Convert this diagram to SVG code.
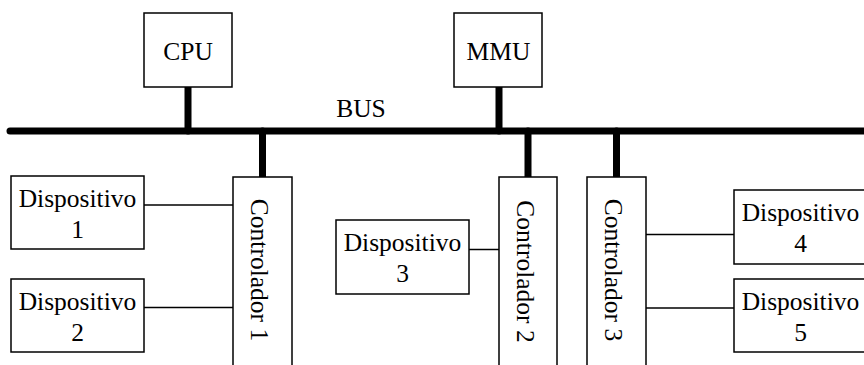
<svg xmlns="http://www.w3.org/2000/svg" width="864" height="365" viewBox="0 0 864 365">
  <style>
    .box { fill: #fff; stroke: #000; stroke-width: 1.5; }
    .lbl { font-family: 'Liberation Serif', 'Times New Roman', 'DejaVu Serif', serif; font-size: 25.5px; fill: #000; text-anchor: middle; }
    .bus { stroke: #000; stroke-width: 7; stroke-linecap: round; fill: none; }
    .wire { stroke: #000; stroke-width: 1.5; fill: none; }
  </style>
  <rect width="864" height="365" fill="#fff"/>

  <g id="connectors">
    <!-- main bus and taps -->
    <line class="bus" x1="10" y1="131" x2="880" y2="131"/>
    <line class="bus" x1="188" y1="87" x2="188" y2="131"/>
    <line class="bus" x1="499" y1="87" x2="499" y2="131"/>
    <line class="bus" x1="262.5" y1="131" x2="262.5" y2="177"/>
    <line class="bus" x1="528" y1="131" x2="528" y2="177"/>
    <line class="bus" x1="616.5" y1="131" x2="616.5" y2="177"/>
    <!-- device links -->
    <line class="wire" x1="144" y1="205" x2="233" y2="205"/>
    <line class="wire" x1="144" y1="307.5" x2="233" y2="307.5"/>
    <line class="wire" x1="469" y1="249.5" x2="499" y2="249.5"/>
    <line class="wire" x1="646" y1="234.5" x2="734" y2="234.5"/>
    <line class="wire" x1="646" y1="308" x2="734" y2="308"/>
  </g>

  <text class="lbl" x="361" y="117">BUS</text>

  <g id="cpu">
    <rect class="box" x="144" y="13" width="88" height="74"/>
    <text class="lbl" x="188" y="60">CPU</text>
  </g>
  <g id="mmu">
    <rect class="box" x="454" y="13" width="88" height="74"/>
    <text class="lbl" x="498.5" y="60">MMU</text>
  </g>

  <g id="controlador1">
    <rect class="box" x="233" y="177" width="59" height="200"/>
    <text class="lbl" transform="translate(262.5 270) rotate(90)" y="11.5">Controlador 1</text>
  </g>
  <g id="controlador2">
    <rect class="box" x="499" y="177" width="58" height="200"/>
    <text class="lbl" transform="translate(528 271.5) rotate(90)" y="11.5">Controlador 2</text>
  </g>
  <g id="controlador3">
    <rect class="box" x="587" y="177" width="59" height="200"/>
    <text class="lbl" transform="translate(616.5 270) rotate(90)" y="11.5">Controlador 3</text>
  </g>

  <g id="dispositivo1">
    <rect class="box" x="11" y="176" width="133" height="73"/>
    <text class="lbl" x="77.5" y="207.3">Dispositivo</text>
    <text class="lbl" x="77.5" y="238.3">1</text>
  </g>
  <g id="dispositivo2">
    <rect class="box" x="11" y="279" width="133" height="73"/>
    <text class="lbl" x="77.5" y="310.3">Dispositivo</text>
    <text class="lbl" x="77.5" y="341.3">2</text>
  </g>
  <g id="dispositivo3">
    <rect class="box" x="336" y="220" width="133" height="74"/>
    <text class="lbl" x="402.5" y="251.3">Dispositivo</text>
    <text class="lbl" x="402.5" y="282.3">3</text>
  </g>
  <g id="dispositivo4">
    <rect class="box" x="734" y="190" width="133" height="74"/>
    <text class="lbl" x="800.5" y="221.3">Dispositivo</text>
    <text class="lbl" x="800.5" y="252.3">4</text>
  </g>
  <g id="dispositivo5">
    <rect class="box" x="734" y="279" width="133" height="73"/>
    <text class="lbl" x="800.5" y="310.3">Dispositivo</text>
    <text class="lbl" x="800.5" y="341.3">5</text>
  </g>
</svg>
